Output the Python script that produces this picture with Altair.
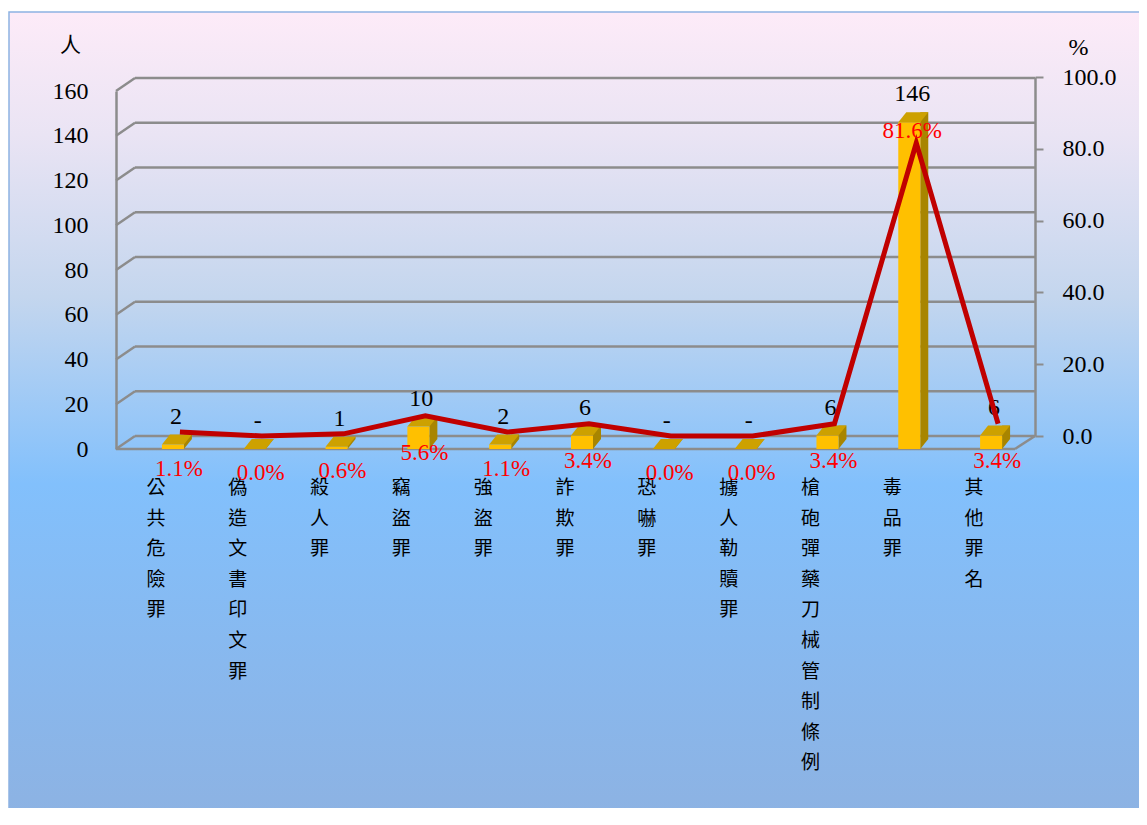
import altair as alt
import pandas as pd

# ---- data ----
categories = ["公共危險罪", "偽造文書印文罪", "殺人罪", "竊盜罪", "強盜罪", "詐欺罪",
              "恐嚇罪", "擄人勒贖罪", "槍砲彈藥刀械管制條例", "毒品罪", "其他罪名"]
counts = [2, 0, 1, 10, 2, 6, 0, 0, 6, 146, 6]
percents = [1.1, 0.0, 0.6, 5.6, 1.1, 3.4, 0.0, 0.0, 3.4, 81.6, 3.4]
left_ticks = [0, 20, 40, 60, 80, 100, 120, 140, 160]
right_ticks = [0, 20, 40, 60, 80, 100]

df = pd.DataFrame({
    "cat": categories,
    "n": counts,
    "pct": percents,
    "base": [0] * len(categories),
    "vlabel": ["\n".join(list(c)) for c in categories],
})
grid_df = pd.DataFrame({"v": left_ticks})

# ---- styles ----
GRAY = "#8C8C8C"
FRONT = "#FFC000"
TOP = "#CDA100"
SIDE = "#A88500"
SERIF = "Liberation Serif"
CJK = "Noto Sans CJK TC"
NUM_SIZE = 24

ys = alt.Scale(domain=[0, 160], range=[372, 14], nice=False)
yr = alt.Scale(domain=[0, 100], range=[359, 0], nice=False)
xs = alt.Scale(domain=categories, range=[19, 919], paddingInner=0, paddingOuter=0)
X = alt.X("cat:N", scale=xs, axis=None)

gradient = alt.Gradient(
    gradient="linear",
    stops=[
        alt.GradientStop(color="#FDEBF8", offset=0),
        alt.GradientStop(color="#EAE4F4", offset=0.15),
        alt.GradientStop(color="#C4D6EE", offset=0.35),
        alt.GradientStop(color="#82C0FC", offset=0.58),
        alt.GradientStop(color="#88B8EE", offset=0.8),
        alt.GradientStop(color="#8DB2E2", offset=1),
    ],
    x1=0, x2=0, y1=0, y2=1,
)

bg = alt.Chart(alt.Data(values=[{"a": 1}])).mark_rect(
    fill=gradient, stroke="#8DB3E2", strokeWidth=1.5
).encode(x=alt.value(-107), x2=alt.value(1100), y=alt.value(-65), y2=alt.value(748))

left_axis = alt.Axis(
    values=left_ticks, tickSize=0, domainColor=GRAY, domainWidth=2.5,
    labelFont=SERIF, labelFontSize=NUM_SIZE, labelColor="black", labelPadding=28,
    grid=False, title="人", titleAngle=0, titleFont=CJK, titleFontSize=21,
    titleFontWeight="normal", titleColor="black", titleX=-46, titleY=-32,
    titleAlign="center", titleBaseline="middle", zindex=1,
)


def YL(field):
    return alt.Y(field, scale=ys, axis=left_axis)


grid = alt.Chart(grid_df).mark_rule(color=GRAY, strokeWidth=2.5, yOffset=-13).encode(
    x=alt.value(19), x2=alt.value(919), y=YL("v:Q")
)
diag = alt.Chart(grid_df).mark_rule(color=GRAY, strokeWidth=2.5, y2Offset=-13).encode(
    x=alt.value(0), x2=alt.value(19), y=YL("v:Q"), y2="v:Q"
)
floor_front = alt.Chart(grid_df).transform_filter("datum.v == 0").mark_rule(
    color=GRAY, strokeWidth=2.5
).encode(x=alt.value(0), x2=alt.value(899), y=YL("v:Q"))
floor_side = alt.Chart(grid_df).transform_filter("datum.v == 0").mark_rule(
    color=GRAY, strokeWidth=2.5, y2Offset=-13
).encode(x=alt.value(899), x2=alt.value(919), y=YL("v:Q"), y2="v:Q")

side = alt.Chart(df).mark_bar(color=SIDE, width=8, xOffset=12, yOffset=-10, y2Offset=-10).encode(
    x=X, y=YL("n:Q"), y2="base:Q"
)
side_tri = alt.Chart(df).mark_point(
    shape="M -0.8 -1 L -0.8 1 L 0.8 -1 Z", size=100, filled=True, color=SIDE,
    opacity=1, strokeWidth=0, xOffset=12, yOffset=-5
).encode(x=X, y=YL("base:Q"))
front = alt.Chart(df).mark_bar(color=FRONT, width=22, xOffset=-3).encode(
    x=X, y=YL("n:Q"), y2="base:Q"
)
top = alt.Chart(df).mark_point(
    shape="M -1 0.3333 L 0.4667 0.3333 L 1 -0.3333 L -0.4667 -0.3333 Z", size=900,
    filled=True, color=TOP, opacity=1, strokeWidth=0, xOffset=1, yOffset=-5
).encode(x=X, y=YL("n:Q"))

count_labels = alt.Chart(df).transform_calculate(
    lab="datum.n == 0 ? '-' : format(datum.n, 'd')"
).mark_text(font=SERIF, fontSize=NUM_SIZE, dy=-28, color="black", baseline="middle").encode(
    x=X, y=YL("n:Q"), text="lab:N"
)

cat_labels = alt.Chart(df).mark_text(
    lineBreak="\n", baseline="top", align="center", fontSize=19, lineHeight=30.6,
    font=CJK, dx=-20, color="black"
).encode(x=X, y=alt.value(402), text="vlabel:N")

left_layer = alt.layer(grid, diag, floor_front, floor_side, side, side_tri, front, top,
                       count_labels, cat_labels)

right_axis = alt.Axis(
    orient="right", values=right_ticks, format=".1f", tickSize=8, tickWidth=2,
    tickColor=GRAY, domainColor=GRAY, domainWidth=2.5, labelFont=SERIF,
    labelFontSize=NUM_SIZE, labelColor="black", labelPadding=19, grid=False,
    title="%", titleAngle=0, titleFont=SERIF, titleFontSize=NUM_SIZE, titleFontWeight="normal",
    titleColor="black", titleX=43, titleY=-30, titleAlign="center", titleBaseline="middle",
    zindex=1,
)


def YR(field):
    return alt.Y(field, scale=yr, axis=right_axis)


line = alt.Chart(df).mark_line(color="#C00000", strokeWidth=5, xOffset=4).encode(
    x=X, y=YR("pct:Q")
)
pct_low = alt.Chart(df).transform_filter("datum.pct <= 50").transform_calculate(
    plab="format(datum.pct, '.1f') + '%'"
).mark_text(font=SERIF, fontSize=23, color="#FF0000", dy=37, dx=3, baseline="middle").encode(
    x=X, y=YR("pct:Q"), text="plab:N"
)
pct_high = alt.Chart(df).transform_filter("datum.pct > 50").transform_calculate(
    plab="format(datum.pct, '.1f') + '%'"
).mark_text(font=SERIF, fontSize=23, color="#FF0000", dy=-12, baseline="middle").encode(
    x=X, y=YR("pct:Q"), text="plab:N"
)
right_layer = alt.layer(line, pct_low, pct_high)

chart = alt.layer(bg, left_layer, right_layer).resolve_scale(y="independent").properties(
    width=919, height=372,
    autosize=alt.AutoSizeParams(type="none"),
    padding={"left": 108, "top": 69, "right": 104, "bottom": 359},
    background="white",
).configure_view(strokeWidth=0)

chart.save("out.html", embed_options={"renderer": "svg", "actions": False})
